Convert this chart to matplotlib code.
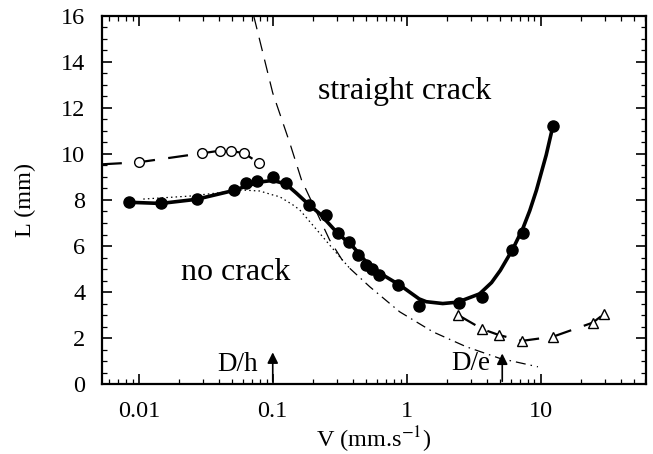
import matplotlib
matplotlib.use("Agg")
import matplotlib.pyplot as plt
from matplotlib.ticker import LogLocator, MultipleLocator, FixedLocator, NullFormatter

plt.rcParams['font.family'] = ['Liberation Serif', 'DejaVu Serif']
plt.rcParams['mathtext.fontset'] = 'stix'

# filled circles (solid curve)
v_full = [0.00847, 0.0146, 0.0271, 0.0515, 0.0636, 0.076, 0.0996, 0.125, 0.187, 0.249,
          0.307, 0.369, 0.433, 0.495, 0.555, 0.618, 0.861, 1.236, 2.44, 3.67, 6.15, 7.38, 12.36]
l_full = [7.93, 7.88, 8.06, 8.45, 8.75, 8.84, 9.01, 8.75, 7.78, 7.35,
          6.58, 6.19, 5.61, 5.17, 5.0, 4.74, 4.30, 3.39, 3.51, 3.80, 5.83, 6.55, 11.22]

# smooth solid fit
v_fit = [0.0085, 0.0146, 0.027, 0.05, 0.065, 0.08, 0.1, 0.125, 0.15, 0.19, 0.225, 0.3,
         0.4, 0.5, 0.63, 0.89, 1.24, 1.4, 1.86, 2.4, 3.5, 4.3, 5.0, 6.2, 7.4, 8.3, 9.3,
         11.0, 12.36]
l_fit = [7.9, 7.85, 8.03, 8.4, 8.62, 8.78, 8.85, 8.7, 8.3, 7.75, 7.4, 6.6,
         5.95, 5.3, 4.82, 4.3, 3.7, 3.58, 3.5, 3.56, 3.92, 4.41, 4.94, 5.87, 6.79, 7.54, 8.42,
         9.95, 11.22]

# open circles (dashed)
v_open = [0.01, 0.0296, 0.0402, 0.0492, 0.0611, 0.0791]
l_open = [9.64, 10.03, 10.14, 10.13, 10.03, 9.60]
v_open_line = [0.0053, 0.01, 0.0296, 0.0402, 0.0492, 0.0611, 0.0791]
l_open_line = [9.55, 9.64, 10.03, 10.14, 10.13, 10.03, 9.60]

# open triangles (dashed)
v_tri = [2.42, 3.67, 4.89, 7.30, 12.36, 24.5, 29.7]
l_tri = [3.0, 2.39, 2.13, 1.88, 2.06, 2.67, 3.04]

# theoretical curves
v_steep = [0.0721, 0.1, 0.134, 0.164, 0.266, 0.355]
l_steep = [16.0, 12.65, 10.48, 8.87, 6.26, 5.1]
v_dot = [0.0108, 0.024, 0.06, 0.08, 0.1, 0.1127, 0.142, 0.159, 0.2245, 0.316, 0.376]
l_dot = [8.04, 8.17, 8.43, 8.39, 8.22, 8.14, 7.78, 7.57, 6.55, 5.53, 5.03]
v_dd = [0.376, 0.53, 0.887, 1.57, 2.79, 4.94, 9.55]
l_dd = [5.03, 4.23, 3.14, 2.27, 1.62, 1.12, 0.75]

fig = plt.figure(figsize=(6.53, 4.54), dpi=100)
ax = fig.add_axes([0.156, 0.154, 0.833, 0.811])

ax.plot(v_fit, l_fit, '-', color='k', lw=2.6)
ax.plot(v_full, l_full, 'o', color='k', ms=8)
ax.plot(v_open_line, l_open_line, color='k', lw=1.6, dashes=(9, 6))
ax.plot(v_open, l_open, 'o', mfc='white', mec='k', ms=7, mew=1)
ax.plot(v_tri, l_tri, color='k', lw=1.6, dashes=(9, 6))
ax.plot(v_tri, l_tri, '^', mfc='white', mec='k', ms=6.5, mew=1)
ax.plot(v_steep, l_steep, color='k', lw=0.9, dashes=(11, 7))
ax.plot(v_dot, l_dot, color='k', lw=0.9, dashes=(1.2, 2.5))
ax.plot(v_dd, l_dd, color='k', lw=0.9, dashes=(8, 4, 1.2, 4))

ax.annotate('', xy=(0.1, 1.5), xytext=(0.1, 0),
            arrowprops=dict(arrowstyle='-|>', color='k', lw=1.2, mutation_scale=16))
ax.annotate('', xy=(5.17, 1.45), xytext=(5.17, 0),
            arrowprops=dict(arrowstyle='-|>', color='k', lw=1.2, mutation_scale=16))
ax.text(0.077, 0.85, 'D/h', fontsize=19.5, ha='right', va='center')
ax.text(4.2, 0.9, 'D/e', fontsize=19.5, ha='right', va='center')
ax.text(0.97, 12.7, 'straight crack', fontsize=23, ha='center', va='center')
ax.text(0.053, 4.85, 'no crack', fontsize=23, ha='center', va='center')

ax.set_xscale('log')
ax.set_xlim(0.0053, 61)
ax.set_ylim(0, 16)
ax.xaxis.set_major_locator(FixedLocator([0.01, 0.1, 1, 10]))
ax.set_xticklabels(['0.01', '0.1', '1', '10'])
ax.xaxis.set_minor_locator(LogLocator(base=10, subs=range(2, 10), numticks=20))
ax.xaxis.set_minor_formatter(NullFormatter())
ax.yaxis.set_major_locator(MultipleLocator(2))
ax.yaxis.set_minor_locator(MultipleLocator(0.5))

ax.tick_params(which='both', direction='in', top=True, right=True, labelsize=17.5)
ax.tick_params(which='major', length=7, width=1.2)
ax.tick_params(which='minor', length=3.5, width=0.9)
ax.tick_params(axis='x', pad=12)
ax.tick_params(axis='y', pad=12)
for s in ax.spines.values():
    s.set_linewidth(1.6)

ax.set_xlabel('V (mm.s$^{\\mathrm{-1}}$)', fontsize=17.5, labelpad=2)
ax.set_ylabel('L (mm)', fontsize=17.5, labelpad=18)

fig.savefig('out.png', dpi=100)
